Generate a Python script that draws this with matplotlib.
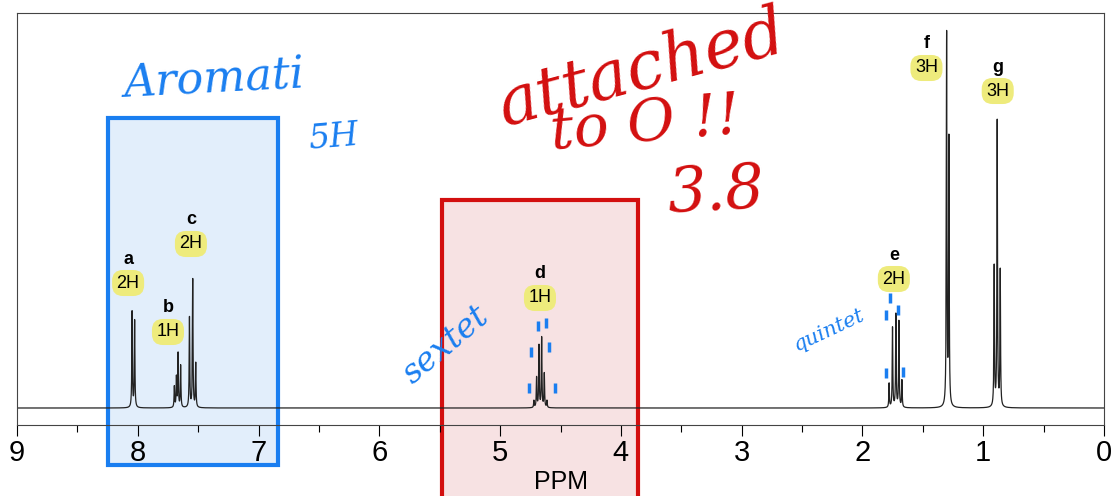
import numpy as np
import matplotlib
matplotlib.use('Agg')
import matplotlib.pyplot as plt
from matplotlib.patches import Rectangle

plt.rcParams['font.family'] = ['Liberation Sans', 'DejaVu Sans']

# peak lists: (ppm, height)
ppm_a = [8.047, 8.026]
h_a = [96, 87]
ppm_b = [7.697, 7.680, 7.666, 7.645]
h_b = [21, 30, 54, 42]
ppm_c = [7.572, 7.545, 7.520]
h_c = [90, 128, 44]
ppm_d = [4.720, 4.698, 4.678, 4.656, 4.634, 4.612]
h_d = [7, 30, 62, 70, 34, 7]
ppm_e = [1.779, 1.751, 1.723, 1.698, 1.673]
h_e = [24, 80, 93, 86, 27]
ppm_f = [1.303, 1.284]
h_f = [372, 266]
ppm_g = [0.909, 0.884, 0.859]
h_g = [140, 286, 136]

labels = ['a', 'b', 'c', 'd', 'e', 'f', 'g']
protons = ['2H', '1H', '2H', '1H', '2H', '3H', '3H']
label_x = [8.08, 7.75, 7.56, 4.67, 1.74, 1.47, 0.88]
label_y = [125, 76, 164, 110, 129, 340, 317]

ticks = [9, 8, 7, 6, 5, 4, 3, 2, 1, 0]

all_ppm = ppm_a + ppm_b + ppm_c + ppm_d + ppm_e + ppm_f + ppm_g
all_h = h_a + h_b + h_c + h_d + h_e + h_f + h_g

x = np.linspace(0, 9, 30000)
w = 0.0028
y = np.zeros_like(x)
for p, h in zip(all_ppm, all_h):
    y += h * w**2 / ((x - p)**2 + w**2)

fig = plt.figure(figsize=(11.11, 4.96), dpi=100)
ax = fig.add_axes([17/1111, 71/496, 1087/1111, 412/496])

blue = '#1a7ef0'
red = '#d30f0f'
ax.add_patch(Rectangle((6.835, -57), 8.25 - 6.835, 347, transform=ax.transData,
                       fc='#e2eefb', ec=blue, lw=3, clip_on=False, zorder=0))
ax.add_patch(Rectangle((3.861, -120), 5.485 - 3.861, 328, transform=ax.transData,
                       fc='#f7e2e3', ec=red, lw=3, clip_on=False, zorder=0))

ax.plot(x, y, color='#222222', lw=0.9, zorder=2)

ax.set_xlim(9, 0)
ax.set_ylim(-17, 395)
ax.set_yticks([])
ax.set_xticks(ticks)
ax.set_xticks(np.arange(0.5, 9, 1.0), minor=True)
ax.tick_params(axis='x', which='major', length=8, width=0.8, labelsize=21, pad=2)
ax.tick_params(axis='x', which='minor', length=5, width=0.8)
for s in ax.spines.values():
    s.set_linewidth(0.8)
    s.set_color('#444444')
ax.set_xlabel('PPM', fontsize=18, labelpad=2)

hl = dict(boxstyle='round,pad=0.25,rounding_size=0.6', fc='#eeeb7c', ec='none')
for lab, prot, lx, ly in zip(labels, protons, label_x, label_y):
    ax.text(lx, ly + 24, lab, ha='center', va='center', fontsize=13, fontweight='bold', zorder=3)
    ax.text(lx, ly, prot, ha='center', va='center', fontsize=13, bbox=hl, zorder=3)

# handwritten notes
hand = dict(style='italic', family='DejaVu Serif', ha='center', va='center')
ax.text(7.37, 328, 'Aromati', color=blue, fontsize=32, rotation=3, **hand)
ax.text(6.38, 270, '5H', color=blue, fontsize=24, rotation=5, **hand)
ax.text(3.82, 338, 'attached', color=red, fontsize=48, rotation=15, **hand)
ax.text(3.8, 283, 'to O !!', color=red, fontsize=42, rotation=5, **hand)
ax.text(3.21, 216, '3.8', color=red, fontsize=44, rotation=3, **hand)
ax.text(5.45, 63, 'sextet', color=blue, fontsize=24, rotation=40, **hand)
ax.text(2.28, 78, 'quintet', color=blue, fontsize=15, rotation=25, **hand)

dots_x = [4.764, 4.549, 4.747, 4.598, 4.689, 4.623, 1.806, 1.668, 1.806, 1.706, 1.773]
dots_y = [20, 20, 56, 61, 82, 85, 35, 36, 93, 98, 110]
ax.scatter(dots_x, dots_y, marker='|', s=60, linewidths=2.5, color=blue, zorder=3)

fig.savefig('out.png', dpi=100)
